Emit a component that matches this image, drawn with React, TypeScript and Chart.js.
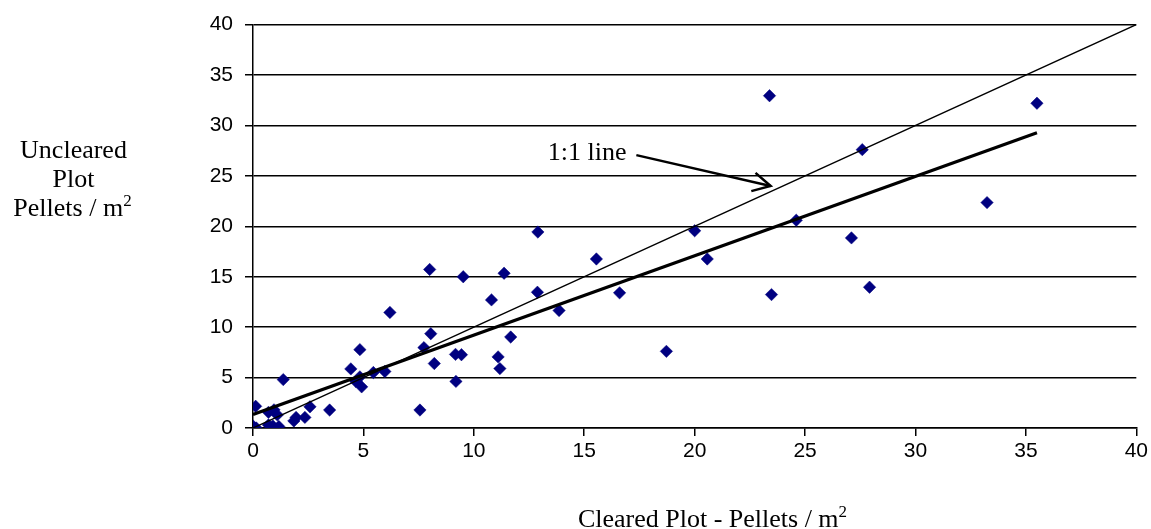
import { useEffect, useRef } from "react";
import { Chart, registerables } from "chart.js";
Chart.register(...registerables);

// Cleared plot (x) vs uncleared plot (y), pellets / m^2
const clearedX = [
  0.0, 0.15, 0.12, 0.7, 0.95, 1.1, 0.7, 0.9, 1.17, 1.37, 1.85, 1.95, 2.35, 2.58, 3.47,
  4.43, 4.66, 4.84, 4.92, 4.84, 5.45, 5.97, 6.2, 7.56, 7.74, 8.0, 8.05, 8.21, 9.17, 9.19,
  9.44, 9.52, 10.8, 11.1, 11.18, 11.37, 11.67, 12.9, 12.88, 13.86, 15.55, 16.6, 18.72,
  20.0, 20.57, 23.39, 23.48, 24.6, 27.1, 27.59, 27.92, 33.24, 35.5,
];
const unclearedY = [
  0.2, 0.0, 2.15, 1.55, 1.8, 1.3, 0.3, 0.2, 0.15, 4.8, 0.7, 1.05, 1.05, 2.1, 1.78,
  5.86, 4.6, 5.07, 4.08, 7.77, 5.5, 5.6, 11.46, 1.78, 7.97, 15.72, 9.35, 6.39, 7.3, 4.62,
  7.27, 15.0, 12.7, 7.05, 5.89, 15.34, 9.02, 19.43, 13.46, 11.65, 16.76, 13.4, 7.6,
  19.56, 16.76, 32.95, 13.23, 20.6, 18.85, 27.6, 13.96, 22.35, 32.2,
];

const oneToOneX = [0, 40];
const oneToOneY = [0, 40];
const trendX = [0, 35.5];
const trendY = [1.35, 29.27];

const tickValues = [0, 5, 10, 15, 20, 25, 30, 35, 40];

const annotationText = "1:1 line";
const annotationTextAt = { x: 13.35, y: 26.54 };
const arrowFrom = { x: 17.36, y: 27.06 };
const arrowTo = { x: 23.44, y: 24.0 };

const xTitle = "Cleared Plot - Pellets / m";
const yTitleLines = ["Uncleared", "Plot", "Pellets / m"];
const superscript = "2";

const SERIF = '"Liberation Serif", "Times New Roman", Times, serif';
const SANS = '"Liberation Sans", Arial, Helvetica, sans-serif';

function drawWithSup(ctx: CanvasRenderingContext2D, base: string, sup: string, cx: number, baseline: number) {
  ctx.font = `26px ${SERIF}`;
  const w1 = ctx.measureText(base).width;
  ctx.font = `17px ${SERIF}`;
  const w2 = ctx.measureText(sup).width;
  const start = cx - (w1 + w2) / 2;
  ctx.textAlign = "left";
  ctx.textBaseline = "alphabetic";
  ctx.font = `26px ${SERIF}`;
  ctx.fillText(base, start, baseline);
  ctx.font = `17px ${SERIF}`;
  ctx.fillText(sup, start + w1, baseline - 10);
}

const labelsPlugin = {
  id: "labelsPlugin",
  afterDatasetsDraw(chart: any) {
    const ctx: CanvasRenderingContext2D = chart.ctx;
    const xs = chart.scales.x;
    const ys = chart.scales.y;
    ctx.save();
    ctx.fillStyle = "#000";
    ctx.strokeStyle = "#000";
    // annotation text
    ctx.font = `26px ${SERIF}`;
    ctx.textAlign = "left";
    ctx.textBaseline = "alphabetic";
    ctx.fillText(annotationText, xs.getPixelForValue(annotationTextAt.x), ys.getPixelForValue(annotationTextAt.y));
    // arrow
    const x1 = xs.getPixelForValue(arrowFrom.x);
    const y1 = ys.getPixelForValue(arrowFrom.y);
    const x2 = xs.getPixelForValue(arrowTo.x);
    const y2 = ys.getPixelForValue(arrowTo.y);
    ctx.lineWidth = 2.5;
    ctx.lineCap = "butt";
    ctx.beginPath();
    ctx.moveTo(x1, y1);
    ctx.lineTo(x2, y2);
    ctx.stroke();
    const ang = Math.atan2(y1 - y2, x1 - x2);
    const len = 20;
    const spread = (28 * Math.PI) / 180;
    ctx.beginPath();
    ctx.moveTo(x2 + len * Math.cos(ang + spread), y2 + len * Math.sin(ang + spread));
    ctx.lineTo(x2, y2);
    ctx.lineTo(x2 + len * Math.cos(ang - spread), y2 + len * Math.sin(ang - spread));
    ctx.stroke();
    ctx.restore();
  },
  afterDraw(chart: any) {
    const ctx: CanvasRenderingContext2D = chart.ctx;
    ctx.save();
    ctx.fillStyle = "#000";
    ctx.font = `26px ${SERIF}`;
    ctx.textAlign = "center";
    ctx.textBaseline = "alphabetic";
    ctx.fillText(yTitleLines[0], 73.5, 158);
    ctx.fillText(yTitleLines[1], 73.5, 187);
    drawWithSup(ctx, yTitleLines[2], superscript, 72.5, 216);
    drawWithSup(ctx, xTitle, superscript, 712.5, 527);
    ctx.restore();
  },
};

export default function App() {
  const ref = useRef<HTMLCanvasElement>(null);
  useEffect(() => {
    if (!ref.current) return;
    const points = clearedX.map((x, i) => ({ x, y: unclearedY[i] }));
    const oneToOne = oneToOneX.map((x, i) => ({ x, y: oneToOneY[i] }));
    const trend = trendX.map((x, i) => ({ x, y: trendY[i] }));
    const chart = new Chart(ref.current, {
      type: "scatter",
      data: {
        datasets: [
          {
            type: "line",
            data: trend,
            borderColor: "#000",
            borderWidth: 3.2,
            pointRadius: 0,
            showLine: true,
            fill: false,
          } as any,
          {
            type: "line",
            data: oneToOne,
            borderColor: "#000",
            borderWidth: 1.4,
            pointRadius: 0,
            showLine: true,
            fill: false,
          } as any,
          {
            data: points,
            pointStyle: "rectRot",
            pointRadius: 6.2,
            backgroundColor: "#000080",
            borderColor: "#000080",
            borderWidth: 0.5,
          },
        ],
      },
      options: {
        responsive: false,
        animation: false,
        devicePixelRatio: 1,
        events: [],
        layout: { padding: { left: 0, top: 23, right: 14, bottom: 0 } },
        plugins: { legend: { display: false }, tooltip: { enabled: false } },
        scales: {
          x: {
            type: "linear",
            min: 0,
            max: 40,
            afterBuildTicks: (s: any) => {
              s.ticks = tickValues.map((v) => ({ value: v }));
            },
            afterFit: (s: any) => {
              s.height = 101;
            },
            ticks: { color: "#000", font: { family: SANS, size: 21 }, padding: 3, maxRotation: 0 },
            grid: { drawOnChartArea: false, drawTicks: true, tickLength: 8, color: "#000", lineWidth: 1.5 },
            border: { display: true, color: "#000", width: 1.5 },
          },
          y: {
            type: "linear",
            min: 0,
            max: 40,
            afterBuildTicks: (s: any) => {
              s.ticks = tickValues.map((v) => ({ value: v }));
            },
            afterFit: (s: any) => {
              s.width = 253;
            },
            ticks: { color: "#000", font: { family: SANS, size: 21 }, padding: 12 },
            grid: { drawTicks: true, tickLength: 8, color: "#000", lineWidth: 1.5 },
            border: { display: true, color: "#000", width: 1.5 },
          },
        },
      },
      plugins: [labelsPlugin],
    });
    return () => chart.destroy();
  }, []);
  return (
    <div style={{ position: "absolute", left: 0, top: 0, width: 1151, height: 529 }}>
      <canvas ref={ref} width={1151} height={529} style={{ display: "block" }} />
    </div>
  );
}
